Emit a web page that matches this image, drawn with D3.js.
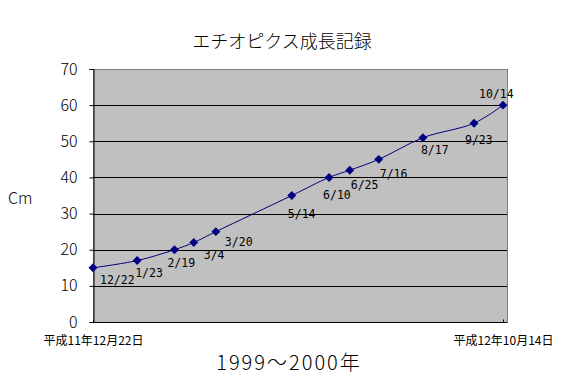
<!DOCTYPE html>
<html><head><meta charset="utf-8">
<script src="https://cdn.jsdelivr.net/npm/d3@7"></script>
<style>
html,body{margin:0;padding:0;background:#fff;}
svg{display:block;}
</style></head>
<body>
<script>
// ---- data ----
const dates = ["1999-12-22","2000-01-23","2000-02-19","2000-03-04","2000-03-20","2000-05-14","2000-06-10","2000-06-25","2000-07-16","2000-08-17","2000-09-23","2000-10-14"];
const heights = [15,17,20,22,25,35,40,42,45,51,55,60];
const pointLabels = ["12/22","1/23","2/19","3/4","3/20","5/14","6/10","6/25","7/16","8/17","9/23","10/14"];
const yTicks = [0,10,20,30,40,50,60,70];
const xTickLabels = ["平成11年12月22日","平成12年10月14日"];
const title = "エチオピクス成長記録";
const yTitle = "Cm";
const xTitle = "1999～2000年";

// ---- layout ----
const W = 565, H = 390;
const plot = {left:93, right:507, top:69, bottom:322};
const labelNudge = [[7,16],[-2,16],[-7,17],[10,17],[9,14],[-4,22],[-6,22],[1,19],[1,19],[-2,16],[-9,21],[-24,-7]];
const jp = "'Noto Sans CJK JP','Noto Sans',sans-serif";

const parse = d3.utcParse("%Y-%m-%d");
const pts = dates.map((d,i)=>({date:parse(d), v:heights[i], label:pointLabels[i]}));

const x = d3.scaleUtc().domain([pts[0].date, pts[pts.length-1].date]).range([plot.left, 503]);
const y = d3.scaleLinear().domain([0,70]).range([plot.bottom, plot.top]);

const svg = d3.select("body").append("svg").attr("width",W).attr("height",H);

// plot background
svg.append("rect").attr("x",plot.left).attr("y",plot.top)
  .attr("width",plot.right-plot.left).attr("height",plot.bottom-plot.top)
  .attr("fill","#c0c0c0").attr("stroke","#808080").attr("stroke-width",1)
  .attr("shape-rendering","crispEdges");

// grid lines
svg.append("g").selectAll("line").data(yTicks.filter(t=>t>0 && t<70)).join("line")
  .attr("x1",plot.left).attr("x2",plot.right)
  .attr("y1",d=>Math.round(y(d))+0.5).attr("y2",d=>Math.round(y(d))+0.5)
  .attr("stroke","#000").attr("stroke-width",1);

// y axis
const yAxis = d3.axisLeft(y).tickValues(yTicks).tickSize(4).tickPadding(12).tickFormat(d3.format("d"));
const gy = svg.append("g").attr("transform",`translate(${plot.left+0.5},0)`).call(yAxis);
gy.select(".domain").attr("stroke","#000");
gy.selectAll(".tick line").attr("stroke","#000");
gy.selectAll(".tick text").attr("font-family",jp).attr("font-weight",300).attr("font-size","16px").attr("fill","#000");

// x axis
const xAxis = d3.axisBottom(x).tickValues([pts[0].date, pts[pts.length-1].date])
  .tickSize(-3).tickPadding(14).tickFormat((d,i)=>xTickLabels[i]);
const gx = svg.append("g").attr("transform",`translate(0,${plot.bottom+0.5})`).call(xAxis);
gx.select(".domain").remove();
gx.append("line").attr("x1",plot.left).attr("x2",plot.right).attr("stroke","#000");
gx.selectAll(".tick line").attr("stroke","#000");
gx.selectAll(".tick text").attr("font-family",jp).attr("font-size","12px").attr("fill","#000");

// line
const line = d3.line().x(d=>x(d.date)).y(d=>y(d.v)).curve(d3.curveCatmullRom.alpha(0.5));
svg.append("path").datum(pts).attr("d",line).attr("fill","none").attr("stroke","#000080").attr("stroke-width",1);

// markers (diamonds)
svg.append("g").selectAll("path").data(pts).join("path")
  .attr("transform",d=>`translate(${x(d.date)},${y(d.v)}) rotate(45)`)
  .attr("d",d3.symbol().type(d3.symbolSquare).size(40))
  .attr("fill","#000080");

// point labels
svg.append("g").selectAll("text").data(pts).join("text")
  .attr("x",(d,i)=>x(d.date)+labelNudge[i][0])
  .attr("y",(d,i)=>y(d.v)+labelNudge[i][1])
  .attr("font-family","'DejaVu Sans Mono',monospace").attr("font-size","11.5px").attr("fill","#000")
  .text(d=>d.label);

// titles
svg.append("text").attr("x",282).attr("y",48).attr("text-anchor","middle")
  .attr("font-family",jp).attr("font-weight",300).attr("font-size","18px").attr("fill","#000").text(title);
svg.append("text").attr("x",8).attr("y",204)
  .attr("font-family",jp).attr("font-weight",300).attr("font-size","16px").attr("fill","#000").text(yTitle);
svg.append("text").attr("x",289).attr("y",370).attr("text-anchor","middle")
  .attr("font-family",jp).attr("font-weight",300).attr("font-size","20px").attr("letter-spacing","2px").attr("fill","#000").text(xTitle);
</script>
</body></html>
